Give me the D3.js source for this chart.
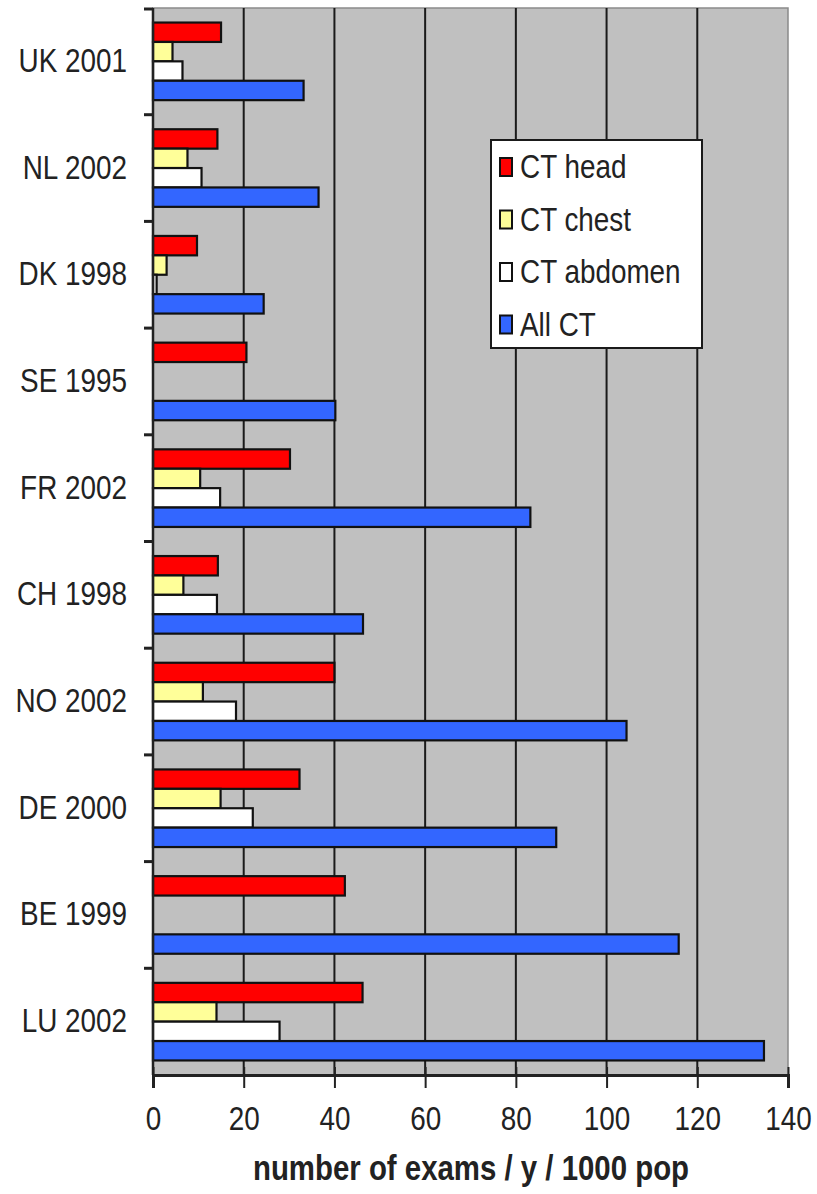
<!DOCTYPE html>
<html>
<head>
<meta charset="utf-8">
<script src="https://cdn.jsdelivr.net/npm/d3@7"></script>
<style>
  html, body { margin: 0; padding: 0; background: #ffffff; }
  svg { display: block; }
  text { font-family: "Liberation Sans", Arial, sans-serif; fill: #222; }
</style>
</head>
<body>
<script>
const categories = ["UK 2001", "NL 2002", "DK 1998", "SE 1995", "FR 2002", "CH 1998", "NO 2002", "DE 2000", "BE 1999", "LU 2002"];
const seriesNames = ["CT head", "CT chest", "CT abdomen", "All CT"];
const ctHead    = [15.0, 14.2, 9.7, 20.6, 30.2, 14.3, 40.0, 32.3, 42.3, 46.2];
const ctChest   = [4.3, 7.6, 3.0, null, 10.4, 6.7, 11.0, 14.9, null, 14.0];
const ctAbdomen = [6.5, 10.7, 0.8, null, 14.8, 14.1, 18.3, 22.0, null, 27.9];
const allCT     = [33.2, 36.5, 24.4, 40.2, 83.2, 46.3, 104.4, 88.9, 115.9, 134.7];
const xTicks = [0, 20, 40, 60, 80, 100, 120, 140];
const xTitle = "number of exams / y / 1000 pop";
const colors = ["#ff0000", "#ffff99", "#ffffff", "#3366ff"];

const W = 817, H = 1194;
const pLeft = 153, pRight = 788, pTop = 8, pBottom = 1075;

const svg = d3.select("body").append("svg").attr("width", W).attr("height", H);

const x = d3.scaleLinear().domain([0, 140]).range([pLeft, pRight]);
const y = d3.scaleBand().domain(categories).range([pTop, pBottom])
  .paddingInner(1.5 / 5.5).paddingOuter(0.75 / 5.5);
const ys = d3.scaleBand().domain(seriesNames).range([0, y.bandwidth()]);

// plot background
svg.append("rect").attr("x", pLeft).attr("y", pTop).attr("width", pRight - pLeft).attr("height", pBottom - pTop)
  .attr("fill", "#c0c0c0").attr("stroke", "#8a8a8a").attr("stroke-width", 1.5);

// gridlines
svg.append("g").selectAll("line").data(xTicks.filter(d => d > 0 && d < 140)).join("line")
  .attr("x1", d => x(d)).attr("x2", d => x(d)).attr("y1", pTop).attr("y2", pBottom)
  .attr("stroke", "#1a1a1a").attr("stroke-width", 2);

// bars
const series = [ctHead, ctChest, ctAbdomen, allCT];
const rows = [];
categories.forEach((c, i) => {
  seriesNames.forEach((s, j) => {
    const v = series[j][i];
    if (v != null) rows.push({ c, s, v, j });
  });
});
svg.append("g").selectAll("rect").data(rows).join("rect")
  .attr("x", x(0))
  .attr("y", d => y(d.c) + ys(d.s))
  .attr("width", d => x(d.v) - x(0))
  .attr("height", ys.bandwidth())
  .attr("fill", d => colors[d.j])
  .attr("stroke", "#111").attr("stroke-width", 2.2);

// x axis
const xAxis = d3.axisBottom(x).tickValues(xTicks).tickSize(13).tickPadding(18).tickFormat(d3.format("d"));
const gx = svg.append("g").attr("transform", `translate(0,${pBottom})`).call(xAxis);
gx.select(".domain").attr("stroke", "#222").attr("stroke-width", 3);
gx.selectAll(".tick line").attr("stroke", "#222").attr("stroke-width", 2).attr("y1", -8);
gx.selectAll(".tick text")
  .attr("font-size", 34).attr("fill", "#222")
  .attr("transform", "scale(0.82,1)");

// y axis line and ticks at category boundaries
svg.append("line").attr("x1", pLeft).attr("x2", pLeft).attr("y1", pTop).attr("y2", pBottom)
  .attr("stroke", "#222").attr("stroke-width", 2.5);
const boundaries = categories.map(c => y(c) - y.step() * y.paddingInner() / 2).slice(1);
svg.append("g").selectAll("line").data(boundaries).join("line")
  .attr("x1", pLeft - 9).attr("x2", pLeft).attr("y1", d => d).attr("y2", d => d)
  .attr("stroke", "#222").attr("stroke-width", 3);
svg.append("line").attr("x1", pLeft - 9).attr("x2", pLeft).attr("y1", pTop + 1).attr("y2", pTop + 1)
  .attr("stroke", "#222").attr("stroke-width", 3);

// category labels
svg.append("g").selectAll("text").data(categories).join("text")
  .attr("transform", c => `translate(127,${y(c) + y.bandwidth() / 2 - 1}) scale(0.82,1)`)
  .attr("text-anchor", "end").attr("dominant-baseline", "central")
  .attr("font-size", 34).text(d => d);

// axis title
svg.append("text")
  .attr("transform", `translate(471,1168) scale(0.84,1)`)
  .attr("text-anchor", "middle").attr("dominant-baseline", "central")
  .attr("font-size", 35).attr("font-weight", "bold").text(xTitle);

// legend
const lg = svg.append("g").attr("transform", "translate(491,140)");
lg.append("rect").attr("width", 211).attr("height", 208).attr("fill", "#ffffff")
  .attr("stroke", "#1a1a1a").attr("stroke-width", 2);
const li = lg.selectAll("g").data(seriesNames).join("g")
  .attr("transform", (d, i) => `translate(0,${27 + i * 52.5})`);
li.append("rect").attr("x", 9).attr("y", -9).attr("width", 12).attr("height", 18)
  .attr("fill", (d, i) => colors[i]).attr("stroke", "#111").attr("stroke-width", 2);
li.append("text").attr("transform", "translate(29,0) scale(0.82,1)")
  .attr("dominant-baseline", "central").attr("font-size", 34).text(d => d);
</script>
</body>
</html>
